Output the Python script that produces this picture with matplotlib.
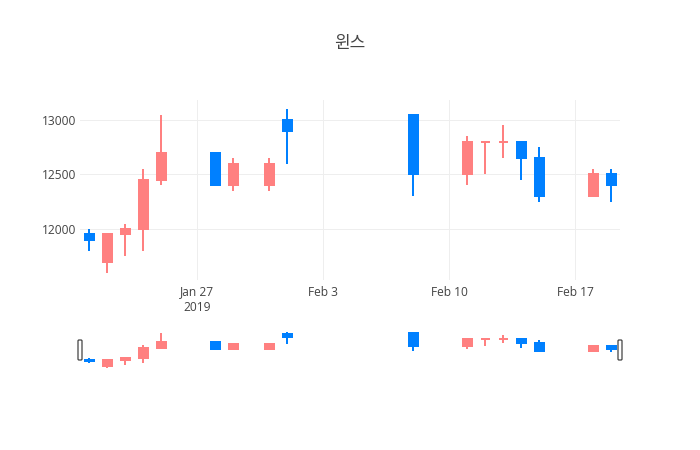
import matplotlib
matplotlib.use("Agg")
import matplotlib.pyplot as plt
import matplotlib.dates as mdates
from matplotlib.patches import Rectangle, FancyBboxPatch
import numpy as np
import pandas as pd

plt.rcParams['font.family'] = ['Open Sans', 'Noto Sans CJK KR', 'DejaVu Sans']

title = "윈스"
dates = ['2019-01-21', '2019-01-22', '2019-01-23', '2019-01-24', '2019-01-25',
         '2019-01-28', '2019-01-29', '2019-01-31', '2019-02-01', '2019-02-08',
         '2019-02-11', '2019-02-12', '2019-02-13', '2019-02-14', '2019-02-15',
         '2019-02-18', '2019-02-19']
opens = [11950, 11700, 11950, 12000, 12450, 12700, 12400, 12400, 13000, 13050,
         12500, 12800, 12800, 12800, 12650, 12300, 12500]
highs = [12000, 11950, 12050, 12550, 13050, 12700, 12650, 12650, 13100, 13050,
         12850, 12800, 12950, 12800, 12750, 12550, 12550]
lows = [11800, 11600, 11750, 11800, 12400, 12400, 12350, 12350, 12600, 12300,
        12400, 12500, 12650, 12450, 12250, 12300, 12250]
closes = [11900, 11950, 12000, 12450, 12700, 12400, 12600, 12600, 12900, 12500,
          12800, 12800, 12800, 12650, 12300, 12500, 12400]
y_ticks = [12000, 12500, 13000]
x_tick_dates = ['2019-01-27', '2019-02-03', '2019-02-10', '2019-02-17']
x_tick_labels = ['Jan 27\n2019', 'Feb 3', 'Feb 10', 'Feb 17']

INC = '#FF8080'
DEC = '#0080FF'

W, H = 700, 450
fig = plt.figure(figsize=(W / 100, H / 100), dpi=100)

x = mdates.date2num(pd.to_datetime(dates))

# plotly-like direction
dirs = []
prev_c = None
prev_dir = True
for o, c in zip(opens, closes):
    if c > o:
        d = True
    elif c < o:
        d = False
    else:
        if prev_c is None:
            d = True
        elif c > prev_c:
            d = True
        elif c < prev_c:
            d = False
        else:
            d = prev_dir
    dirs.append(d)
    prev_c = c
    prev_dir = d

xmin = x[0] - 0.5
xmax = x[-1] + 0.5
bw = 0.5  # body width in days
lw = 1.44


def draw_candles(ax):
    for xi, o, h, l, c, d in zip(x, opens, highs, lows, closes, dirs):
        col = INC if d else DEC
        ax.plot([xi, xi], [l, h], color=col, lw=lw, solid_capstyle='butt', zorder=3)
        lo, hi = min(o, c), max(o, c)
        ax.add_patch(Rectangle((xi - bw / 2, lo), bw, hi - lo, facecolor=col,
                               edgecolor=col, lw=lw, zorder=4, joinstyle='miter'))


# main axes
ax = fig.add_axes([80 / W, 1 - 280 / H, 540 / W, 180 / H])
draw_candles(ax)
ax.set_xlim(xmin, xmax)
ax.set_ylim(11532, 13183)
for s in ax.spines.values():
    s.set_visible(False)
ax.set_yticks(y_ticks)
ax.set_yticklabels([str(v) for v in y_ticks])
ax.set_xticks(mdates.date2num(pd.to_datetime(x_tick_dates)))
ax.set_xticklabels(x_tick_labels)
ax.tick_params(axis='both', length=0, labelsize=8.64, labelcolor='#444444')
ax.tick_params(axis='y', pad=3)
ax.tick_params(axis='x', pad=4)
ax.grid(True, color='#eeeeee', lw=0.72, zorder=0)
ax.set_axisbelow(True)

# range slider axes
rs = fig.add_axes([80 / W, 1 - 370 / H, 540 / W, 40 / H])
draw_candles(rs)
rs.set_xlim(xmin, xmax)
rs.set_ylim(11525, 13175)
rs.axis('off')

# slider handles (in pixel coordinates)
for cx in (80, 620):
    p = FancyBboxPatch((cx - 2, H - 360), 4, 20,
                       boxstyle='round,pad=0,rounding_size=1',
                       facecolor='white', edgecolor='#444444', lw=0.9,
                       transform=None, zorder=10)
    fig.patches.append(p)

fig.text(350 / W, 1 - 44 / H, title, ha='center', va='center',
         fontsize=12.24, color='#444444')

fig.savefig('out.png', dpi=100)
